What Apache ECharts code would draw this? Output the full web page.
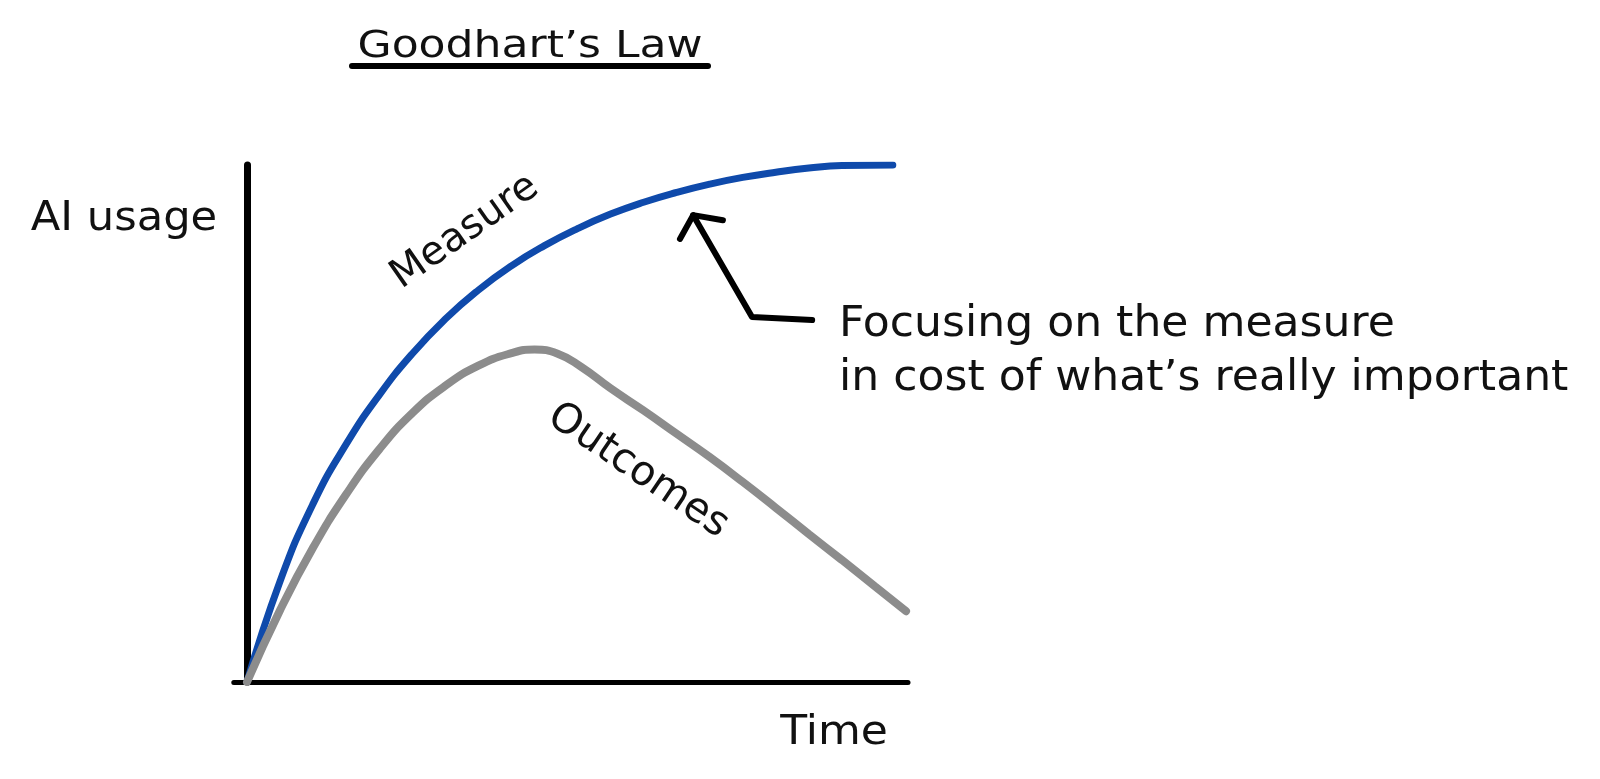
<!DOCTYPE html>
<html>
<head>
<meta charset="utf-8">
<script src="https://cdn.jsdelivr.net/npm/echarts@6/dist/echarts.min.js"></script>
<style>
html,body{margin:0;padding:0;background:#fff;}
#chart{width:1600px;height:779px;}
</style>
</head>
<body>
<div id="chart"></div>
<script>
// ---- data (x: time 0..100, y: AI usage 0..100) ----
const measureX = [0, 5, 10, 15, 20, 25, 30, 35, 40, 45, 50, 55, 60, 65, 70, 75, 80, 85, 90, 97.7];
const measureY = [0, 19.5, 34.5, 46.0, 55.5, 63.5, 70.2, 75.8, 80.5, 84.4, 87.7, 90.5, 92.8, 94.7, 96.3, 97.6, 98.6, 99.4, 99.9, 100];
const outcomesX = [0, 5, 10, 15, 20, 25, 30, 35, 40, 43.5, 47, 50.5, 55, 60, 65, 70, 75, 80, 85, 90, 95, 99.7];
const outcomesY = [0, 13.9, 26.0, 36.3, 45.0, 52.0, 57.3, 61.2, 63.6, 64.3, 63.5, 61.0, 56.8, 52.5, 48.0, 43.5, 38.7, 33.7, 28.6, 23.6, 18.5, 13.7];
const arrowX = [85.5, 76.4, 67.5];
const arrowY = [70.0, 70.6, 90.3];
const arrowHeadX = [65.5, 67.5, 72.0];
const arrowHeadY = [85.7, 90.3, 89.3];
const titleText = 'Goodhart’s Law';
const yName = 'AI usage';
const xName = 'Time';
const measureLabel = 'Measure';
const outcomesLabel = 'Outcomes';
const noteLines = ['Focusing on the measure', 'in cost of what’s really important'];

const zip = (xs, ys) => xs.map((x, i) => [x, ys[i]]);
const FONT = 'DejaVu Sans';

function txt(text, x, y, size, rot, align, sx) {
  return {
    type: 'text', x: x, y: y, rotation: (rot || 0) * Math.PI / 180,
    scaleX: sx || 1, scaleY: 1,
    style: {
      text: text, fill: '#111', font: size + 'px "' + FONT + '"',
      align: align || 'center', textAlign: align || 'center',
      verticalAlign: 'middle', textVerticalAlign: 'middle'
    }
  };
}

const chart = echarts.init(document.getElementById('chart'));
chart.setOption({
  backgroundColor: '#fff',
  animation: false,
  grid: { left: 233.8, right: 692, top: 165, bottom: 97 },
  xAxis: {
    type: 'value', min: -2, max: 100,
    axisLine: { show: true, onZero: true, lineStyle: { color: '#000', width: 5, cap: 'round' } },
    axisTick: { show: false }, axisLabel: { show: false }, splitLine: { show: false }
  },
  yAxis: {
    type: 'value', min: 0, max: 100,
    axisLine: { show: true, onZero: true, lineStyle: { color: '#000', width: 7, cap: 'round' } },
    axisTick: { show: false }, axisLabel: { show: false }, splitLine: { show: false }
  },
  series: [
    {
      name: measureLabel, type: 'line', data: zip(measureX, measureY), smooth: 0.5,
      symbol: 'none', z: 3,
      lineStyle: { color: '#0F4AAB', width: 7, cap: 'round' }
    },
    {
      name: outcomesLabel, type: 'line', data: zip(outcomesX, outcomesY), smooth: 0.5,
      symbol: 'none', z: 4,
      lineStyle: { color: '#8C8C8C', width: 8, cap: 'round' }
    },
    {
      name: 'arrow', type: 'line', data: zip(arrowX, arrowY), smooth: false,
      symbol: 'none', z: 5,
      lineStyle: { color: '#000', width: 6, cap: 'round', join: 'round' }
    },
    {
      name: 'arrowHead', type: 'line', data: zip(arrowHeadX, arrowHeadY), smooth: false,
      symbol: 'none', z: 5,
      lineStyle: { color: '#000', width: 6, cap: 'round', join: 'round' }
    }
  ],
  graphic: [
    txt(titleText, 530, 47, 38, 0, 'center', 1.16),
    { type: 'line', shape: { x1: 352, y1: 66, x2: 708, y2: 66 },
      style: { stroke: '#000', lineWidth: 6, lineCap: 'round' } },
    txt(yName, 124, 220, 40, 0, 'center', 1.08),
    txt(xName, 834, 734, 40, 0, 'center', 1.1),
    txt(measureLabel, 465, 232, 40, 35),
    txt(outcomesLabel, 638, 471, 41, -34),
    txt(noteLines[0], 839, 325, 42, 0, 'left', 1.05),
    txt(noteLines[1], 839, 379, 42, 0, 'left', 1.05)
  ]
});
</script>
</body>
</html>
